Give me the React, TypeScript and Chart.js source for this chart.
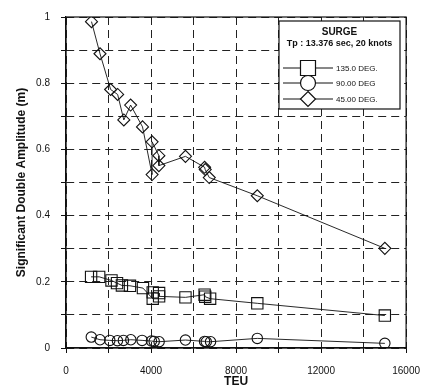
import { useEffect, useRef } from "react";
import { Chart, registerables } from "chart.js";

Chart.register(...registerables);

// Surge response, Tp = 13.376 s, 20 knots
const teu135 = [1180, 1560, 2140, 2400, 2630, 3010, 3620, 4080, 4080, 4380, 4380, 5620, 6520, 6550, 6780, 9000, 15000];
const sda135 = [0.215, 0.215, 0.204, 0.196, 0.189, 0.188, 0.181, 0.149, 0.168, 0.166, 0.156, 0.153, 0.161, 0.155, 0.149, 0.135, 0.098];

const teu90 = [1190, 1600, 2060, 2420, 2700, 3050, 3580, 4020, 4150, 4380, 5620, 6520, 6600, 6800, 9000, 15000];
const sda90 = [0.033, 0.025, 0.023, 0.022, 0.023, 0.025, 0.023, 0.021, 0.02, 0.019, 0.024, 0.02, 0.019, 0.019, 0.029, 0.014];

const teu45 = [1200, 1600, 2100, 2430, 2720, 3040, 3600, 4050, 4050, 4370, 4370, 5620, 6520, 6550, 6740, 9000, 15000];
const sda45 = [0.986, 0.889, 0.781, 0.766, 0.689, 0.734, 0.668, 0.524, 0.623, 0.581, 0.551, 0.579, 0.546, 0.539, 0.515, 0.46, 0.301];

const seriesNames = ["135.0 DEG.", "90.00 DEG", "45.00 DEG."];
const legendTitle = ["SURGE", "Tp : 13.376 sec, 20 knots"];
const xTitle = "TEU";
const yTitle = "Significant Double Amplitude (m)";

const FONT = "'Liberation Sans', Arial, sans-serif";
const INK = "#111";

const toPoints = (xs: number[], ys: number[]) => xs.map((x, i) => ({ x, y: ys[i] }));

const framePlugin = {
  id: "frame",
  afterDraw(chart: any) {
    const { ctx, chartArea: a } = chart;
    ctx.save();
    ctx.strokeStyle = INK;
    ctx.lineWidth = 1.2;
    ctx.setLineDash([]);
    ctx.strokeRect(a.left, a.top, a.right - a.left, a.bottom - a.top);
    ctx.restore();
  },
};

const legendPlugin = {
  id: "boxLegend",
  afterDraw(chart: any) {
    const { ctx } = chart;
    const bx = 279, by = 21, bw = 121, bh = 88;
    ctx.save();
    ctx.fillStyle = "#fff";
    ctx.fillRect(bx, by, bw, bh);
    ctx.strokeStyle = INK;
    ctx.lineWidth = 1.2;
    ctx.strokeRect(bx, by, bw, bh);

    ctx.fillStyle = INK;
    ctx.textAlign = "center";
    ctx.textBaseline = "middle";
    ctx.font = `bold 10px ${FONT}`;
    ctx.fillText(legendTitle[0], bx + bw / 2, 32);
    ctx.font = `bold 9px ${FONT}`;
    ctx.fillText(legendTitle[1], bx + bw / 2, 44);

    const rows = [68, 83, 99];
    const styles = ["rect", "circle", "rectRot"];
    const mx = 308;
    rows.forEach((ry, i) => {
      ctx.lineWidth = 1;
      ctx.beginPath();
      ctx.moveTo(283, ry);
      ctx.lineTo(333, ry);
      ctx.stroke();
      ctx.lineWidth = 1.2;
      ctx.beginPath();
      const s = 7.5;
      if (styles[i] === "rect") {
        ctx.rect(mx - s, ry - s, 2 * s, 2 * s);
      } else if (styles[i] === "circle") {
        ctx.arc(mx, ry, s, 0, Math.PI * 2);
      } else {
        ctx.moveTo(mx, ry - s);
        ctx.lineTo(mx + s, ry);
        ctx.lineTo(mx, ry + s);
        ctx.lineTo(mx - s, ry);
        ctx.closePath();
      }
      ctx.fillStyle = "#fff";
      ctx.fill();
      ctx.stroke();
      ctx.fillStyle = INK;
      ctx.textAlign = "left";
      ctx.font = `8px ${FONT}`;
      ctx.fillText(seriesNames[i], 336, ry + 0.5);
    });
    ctx.restore();
  },
};

export default function App() {
  const canvasRef = useRef<HTMLCanvasElement>(null);

  useEffect(() => {
    if (!canvasRef.current) return;
    const mk = (label: string, data: any[], style: string, r: number) => ({
      label,
      data,
      showLine: true,
      borderColor: INK,
      borderWidth: 0.9,
      pointStyle: style,
      pointRadius: r,
      pointBorderWidth: 1.1,
      pointBorderColor: INK,
      pointBackgroundColor: "rgba(0,0,0,0)",
      backgroundColor: "rgba(0,0,0,0)",
      tension: 0,
    });

    const chart = new Chart(canvasRef.current, {
      type: "scatter",
      data: {
        datasets: [
          mk(seriesNames[0], toPoints(teu135, sda135), "rect", 8),
          mk(seriesNames[1], toPoints(teu90, sda90), "circle", 5.2),
          mk(seriesNames[2], toPoints(teu45, sda45), "rectRot", 6),
        ],
      },
      options: {
        responsive: false,
        animation: false,
        layout: { padding: { left: 0, top: 10, right: 17, bottom: 0 } },
        plugins: {
          legend: { display: false },
          tooltip: { enabled: false },
        },
        scales: {
          x: {
            type: "linear",
            min: 0,
            max: 16000,
            afterFit: (s: any) => {
              s.height = 44;
            },
            ticks: {
              stepSize: 2000,
              autoSkip: false,
              maxRotation: 0,
              padding: 12,
              color: INK,
              font: { family: FONT, size: 10 },
              callback: (v: any) => (Number(v) % 4000 === 0 ? String(v) : ""),
            },
            grid: {
              color: "#222",
              lineWidth: 1,
              tickLength: 5,
              tickColor: INK,
            },
            border: { display: true, color: INK, width: 1.2, dash: [8, 5] },
            title: {
              display: true,
              text: xTitle,
              color: INK,
              font: { family: FONT, size: 12, weight: "bold" },
              padding: { top: 0, bottom: 3 },
            },
          },
          y: {
            type: "linear",
            min: 0,
            max: 1,
            afterFit: (s: any) => {
              s.width = 66;
            },
            ticks: {
              stepSize: 0.1,
              autoSkip: false,
              padding: 11,
              color: INK,
              font: { family: FONT, size: 10 },
              callback: (v: any) => {
                const n = Math.round(Number(v) * 10);
                if (n % 2 !== 0) return "";
                return n === 0 ? "0" : n === 10 ? "1" : (n / 10).toFixed(1);
              },
            },
            grid: {
              color: "#222",
              lineWidth: 1,
              tickLength: 5,
              tickColor: INK,
            },
            border: { display: true, color: INK, width: 1.2, dash: [8, 5] },
            title: {
              display: true,
              text: yTitle,
              color: INK,
              font: { family: FONT, size: 12, weight: "bold" },
              padding: { top: 14, bottom: 0 },
            },
          },
        },
      },
      plugins: [framePlugin, legendPlugin],
    } as any);

    return () => chart.destroy();
  }, []);

  return (
    <div style={{ position: "absolute", left: 0, top: 0, width: 432, height: 392, background: "#fff" }}>
      <canvas ref={canvasRef} width={432} height={392} style={{ display: "block" }} />
    </div>
  );
}
